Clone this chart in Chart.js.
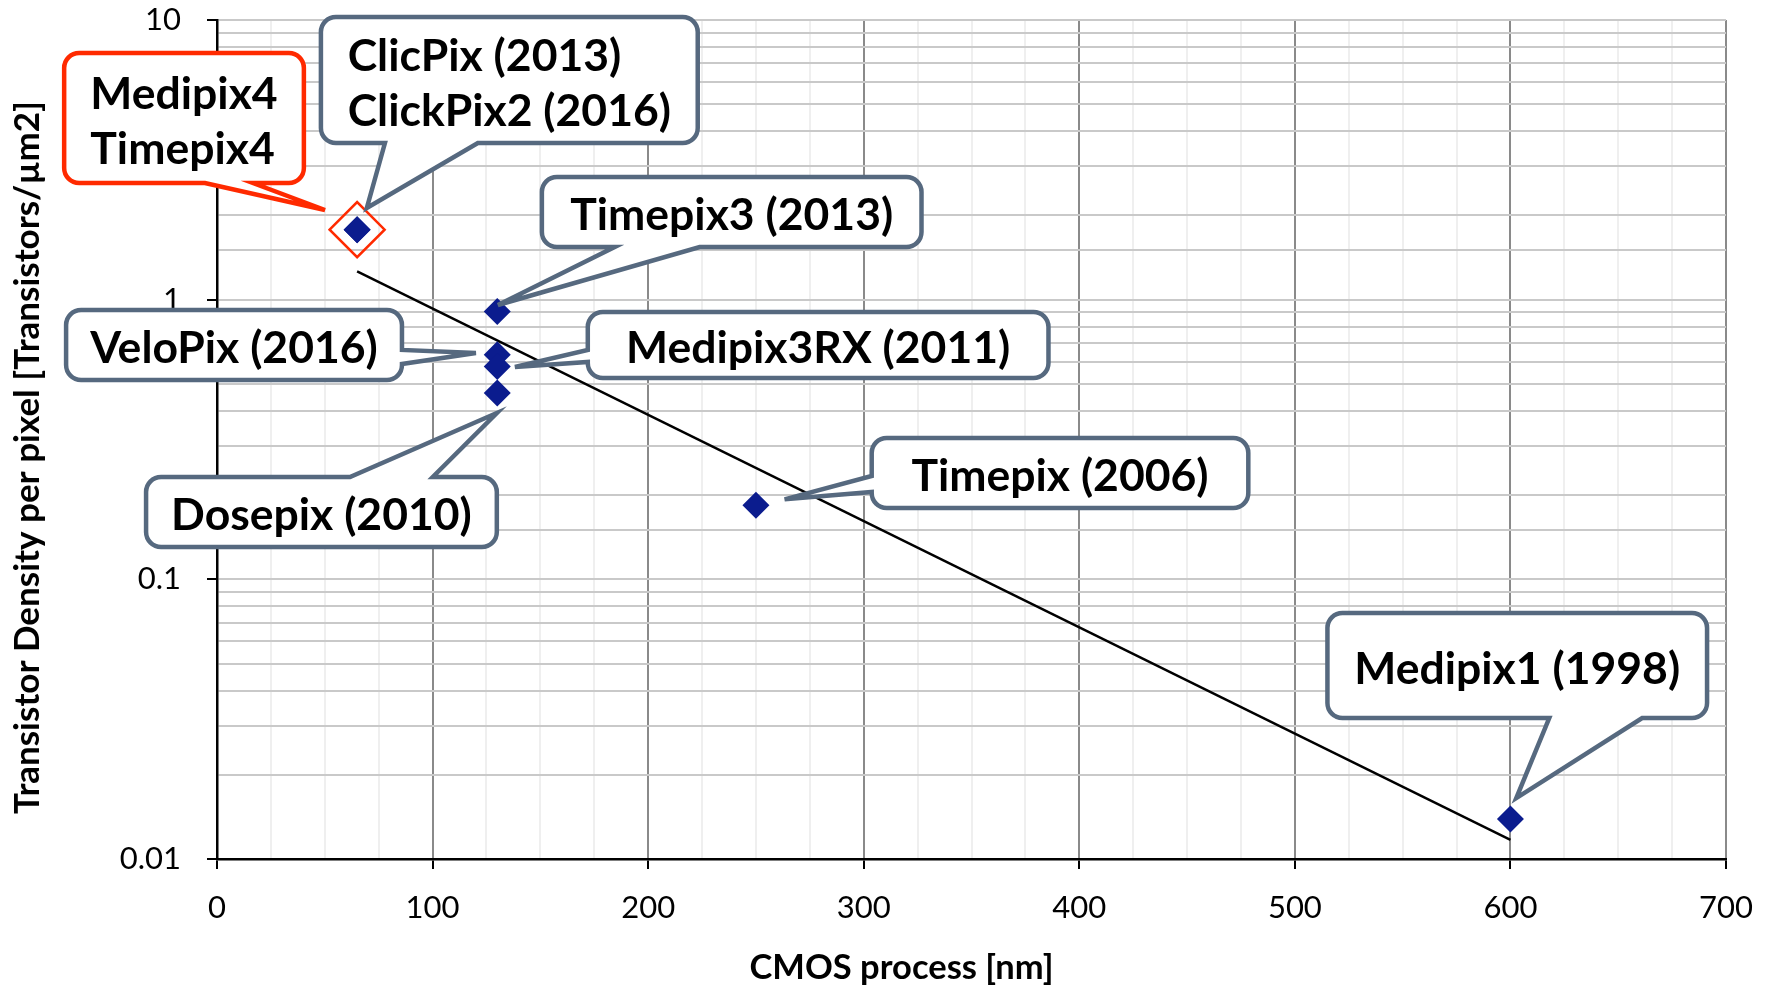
<!DOCTYPE html>
<html>
<head>
<meta charset="utf-8">
<script src="https://cdn.jsdelivr.net/npm/chart.js@4/dist/chart.umd.min.js"></script>
<style>
  html, body { margin: 0; padding: 0; background: #fff; }
  #wrap { width: 1773px; height: 988px; }
</style>
</head>
<body>
<div id="wrap"><canvas id="chart-transistor-density" width="1773" height="988"></canvas></div>
<script>
// chip points: CMOS process [nm] vs transistors/um2
const processNm = [65, 65, 130, 130, 130, 130, 250, 600];
const density = [1.78, 1.78, 0.908, 0.636, 0.577, 0.464, 0.184, 0.0139];
const chipNames = ["ClicPix/ClickPix2", "Medipix4/Timepix4", "Timepix3", "VeloPix", "Medipix3RX", "Dosepix", "Timepix", "Medipix1"];

// the new chips (ringed in red)
const newNm = [65];
const newDensity = [1.78];

// exponential trend line ends
const trendNm = [65, 600];
const trendDensity = [1.262, 0.0117];

const yDecades = [0.01, 0.1, 1, 10];
const yDecadeLabels = ["0.01", "0.1", "1", "10"];

const xTitle = "CMOS process [nm]";
const yTitle = "Transistor Density per pixel [Transistors/µm2]";

(function () {
  const slate = "#56697f";
  const red = "#ff2a00";
  const navy = "#0b1c8e";
  const font = "Lato, 'Open Sans', sans-serif";

  // callouts, positioned in data units (nm, density)
  const callouts = [
    { lines: ["Medipix4", "Timepix4"], color: red, box: [-70.9, 7.62, 40.3, 2.613], side: "bottom", base: [-5.6, 16.7], tip: [50.1, 2.092] },
    { lines: ["ClicPix (2013)", "ClickPix2 (2016)"], color: slate, box: [48.2, 10.25, 223, 3.633], side: "bottom", base: [77.9, 121], tip: [69.5, 2.127] },
    { lines: ["Timepix3 (2013)"], color: slate, box: [150.7, 2.746, 326.8, 1.543], side: "bottom", base: [184.5, 223.9], tip: [130.3, 0.957] },
    { lines: ["VeloPix (2016)"], color: slate, box: [-70, 0.9185, 85.8, 0.5161], side: "right", base: [0.661, 0.589], tip: [120.1, 0.6447] },
    { lines: ["Medipix3RX (2011)"], color: slate, box: [172, 0.9035, 385.7, 0.5248], side: "left", base: [0.6607, 0.5985], tip: [138.2, 0.5742] },
    { lines: ["Dosepix (2010)"], color: slate, box: [-32.9, 0.2323, 129.8, 0.1305], side: "top", base: [61.7, 100.1], tip: [129.8, 0.3934] },
    { lines: ["Timepix (2006)"], color: slate, box: [303.7, 0.3201, 478.4, 0.1799], side: "left", base: [0.2342, 0.2052], tip: [263.3, 0.1932] },
    { lines: ["Medipix1 (1998)"], color: slate, box: [515.1, 0.07579, 691.2, 0.03193], side: "bottom", base: [618, 661.1], tip: [602.7, 0.01652] },
  ];

  const isDecade = (v) => {
    const l = Math.log10(v);
    return Math.abs(l - Math.round(l)) < 1e-6;
  };

  const calloutPlugin = {
    id: "callouts",
    afterDraw(chart) {
      const ctx = chart.ctx;
      const xs = chart.scales.x;
      const ys = chart.scales.y;
      const r = 15;

      // axis titles, placed like the original (not centred on the plot)
      ctx.save();
      ctx.fillStyle = "#000";
      ctx.textAlign = "center";
      ctx.textBaseline = "middle";
      ctx.font = "bold 34.5px " + font;
      ctx.fillText(xTitle, chart.width / 2 + 15, chart.height - 20);
      ctx.translate(28, (ys.top + ys.bottom) / 2 + 18);
      ctx.rotate(-Math.PI / 2);
      ctx.font = "bold 35px " + font;
      ctx.fillText(yTitle, 0, 0);
      ctx.restore();

      callouts.forEach((c) => {
        const x0 = xs.getPixelForValue(c.box[0]);
        const y0 = ys.getPixelForValue(c.box[1]);
        const x1 = xs.getPixelForValue(c.box[2]);
        const y1 = ys.getPixelForValue(c.box[3]);
        const tx = xs.getPixelForValue(c.tip[0]);
        const ty = ys.getPixelForValue(c.tip[1]);
        const horiz = c.side === "top" || c.side === "bottom";
        const a = horiz ? xs.getPixelForValue(c.base[0]) : ys.getPixelForValue(c.base[0]);
        const b = horiz ? xs.getPixelForValue(c.base[1]) : ys.getPixelForValue(c.base[1]);

        ctx.save();
        ctx.beginPath();
        ctx.moveTo(x0 + r, y0);
        if (c.side === "top") { ctx.lineTo(a, y0); ctx.lineTo(tx, ty); ctx.lineTo(b, y0); }
        ctx.arcTo(x1, y0, x1, y0 + r, r);
        if (c.side === "right") { ctx.lineTo(x1, a); ctx.lineTo(tx, ty); ctx.lineTo(x1, b); }
        ctx.arcTo(x1, y1, x1 - r, y1, r);
        if (c.side === "bottom") { ctx.lineTo(b, y1); ctx.lineTo(tx, ty); ctx.lineTo(a, y1); }
        ctx.arcTo(x0, y1, x0, y1 - r, r);
        if (c.side === "left") { ctx.lineTo(x0, b); ctx.lineTo(tx, ty); ctx.lineTo(x0, a); }
        ctx.arcTo(x0, y0, x0 + r, y0, r);
        ctx.closePath();
        ctx.fillStyle = "#fff";
        ctx.fill();
        ctx.lineWidth = 4.5;
        ctx.lineJoin = "miter";
        ctx.strokeStyle = c.color;
        ctx.stroke();

        ctx.font = "bold 44.5px " + font;
        ctx.fillStyle = "#000";
        ctx.textBaseline = "middle";
        ctx.textAlign = "left";
        const w = Math.max.apply(null, c.lines.map((t) => ctx.measureText(t).width));
        const left = (x0 + x1) / 2 - w / 2;
        const lh = 55;
        const cy = (y0 + y1) / 2 + 4 - (lh * (c.lines.length - 1)) / 2;
        c.lines.forEach((t, i) => ctx.fillText(t, left, cy + i * lh));
        ctx.restore();
      });
    },
  };

  const noPadding = () => ({ left: 0, top: 0, right: 0, bottom: 0 });

  const el = document.getElementById("chart-transistor-density");

  new Chart(el, {
    type: "scatter",
    data: {
      datasets: [
        {
          label: "Chips",
          data: processNm.map((x, i) => ({ x: x, y: density[i] })),
          pointStyle: "rectRot",
          pointRadius: 13.5,
          backgroundColor: navy,
          borderColor: navy,
          borderWidth: 0,
          order: 1,
        },
        {
          label: "New chips",
          data: newNm.map((x, i) => ({ x: x, y: newDensity[i] })),
          pointStyle: "rectRot",
          pointRadius: 27.5,
          backgroundColor: "rgba(255,255,255,0)",
          borderColor: red,
          borderWidth: 2.5,
          order: 2,
        },
        {
          label: "Trend",
          type: "line",
          data: trendNm.map((x, i) => ({ x: x, y: trendDensity[i] })),
          showLine: true,
          borderColor: "#000",
          borderWidth: 2.4,
          pointRadius: 0,
          fill: false,
          order: 3,
        },
      ],
    },
    options: {
      responsive: false,
      animation: false,
      layout: { autoPadding: false, padding: { top: 20, right: 46, bottom: 0, left: 0 } },
      plugins: { legend: { display: false }, tooltip: { enabled: false } },
      scales: {
        x: {
          type: "linear",
          min: 0,
          max: 700,
          afterFit: (s) => { s.height = 129; },
          border: { color: "#000", width: 2.5 },
          grid: {
            color: (c) => (c.tick && c.tick.value % 100 === 0 ? "#8a8a8a" : "#efefef"),
            lineWidth: 2,
            tickLength: 10,
            tickWidth: 2,
            tickColor: (c) => (c.tick && c.tick.value % 100 === 0 ? "#000" : "rgba(0,0,0,0)"),
          },
          ticks: {
            stepSize: 25,
            autoSkip: false,
            maxRotation: 0,
            padding: 20,
            color: "#000",
            font: { family: font, size: 31 },
            callback: (v) => (v % 100 === 0 ? String(v) : ""),
          },
          title: { display: false },
        },
        y: {
          type: "logarithmic",
          min: 0.01,
          max: 10,
          afterFit: (s) => {
            s.width = 217;
            s.paddingTop = 0;
            s.paddingBottom = 0;
            s.getPadding = noPadding;
          },
          border: { color: "#000", width: 2.5 },
          grid: {
            color: "#c9c9c9",
            lineWidth: 2,
            tickLength: 10,
            tickWidth: 2,
            tickColor: (c) => (c.tick && isDecade(c.tick.value) ? "#000" : "rgba(0,0,0,0)"),
          },
          ticks: {
            autoSkip: false,
            padding: 26,
            color: "#000",
            font: { family: font, size: 31 },
            callback: (v) => {
              const i = yDecades.findIndex((d) => Math.abs(Math.log10(d) - Math.log10(v)) < 1e-6);
              return i >= 0 ? yDecadeLabels[i] : "";
            },
          },
          title: { display: false },
        },
      },
    },
    plugins: [calloutPlugin],
  });
})();
</script>
</body>
</html>
